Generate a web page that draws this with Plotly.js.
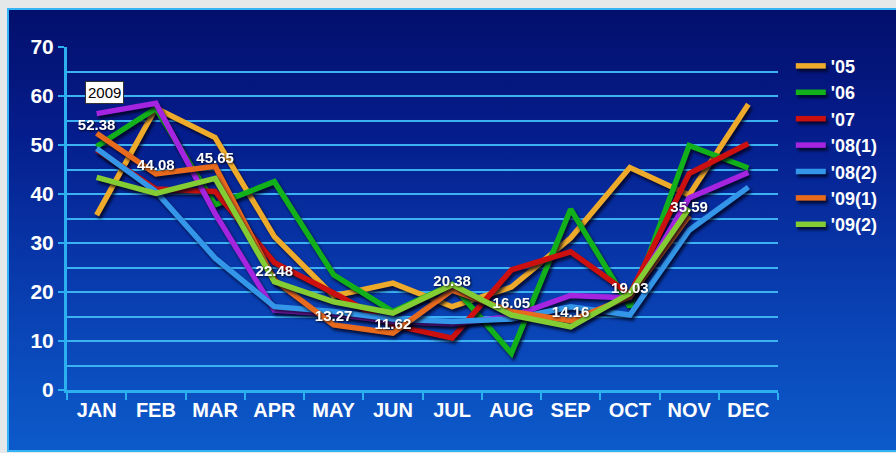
<!DOCTYPE html>
<html>
<head>
<meta charset="utf-8">
<script src="https://cdn.plot.ly/plotly-3.0.1.min.js"></script>
<style>
  html, body { margin: 0; padding: 0; width: 896px; height: 453px; overflow: hidden; background: #e4e8e8; }
  #panel {
    position: absolute; left: 7px; top: 8px; width: 889px; height: 440px;
    border-top: 2px solid #34b4f4; border-left: 2px solid #34b4f4; border-bottom: 2px solid #34b4f4;
    background: linear-gradient(to bottom, #030f6c 0%, #051d8c 28%, #0838aa 58%, #0b4fc0 85%, #0c5aca 100%);
  }
  #chart { position: absolute; left: 0; top: 0; width: 896px; height: 453px; }
  #chart .scatterlayer .js-line,
  #chart .legendlines path {
    filter: drop-shadow(2px 3px 1.5px rgba(0, 0, 20, 0.75));
  }
  #chart .scatterlayer .textpoint text {
    filter: drop-shadow(1px 1px 1px rgba(0, 0, 0, 0.8));
  }
</style>
</head>
<body>
<div id="panel"></div>
<div id="chart"></div>
<script>
const months = ['JAN', 'FEB', 'MAR', 'APR', 'MAY', 'JUN', 'JUL', 'AUG', 'SEP', 'OCT', 'NOV', 'DEC'];

const seriesNames = ["'05", "'06", "'07", "'08(1)", "'08(2)", "'09(1)", "'09(2)"];

const s05  = [35.7, 57.5, 51.5, 31.3, 19.2, 21.8, 17.0, 21.0, 31.0, 45.4, 39.8, 58.3];
const s06  = [49.7, 57.5, 37.8, 42.5, 23.5, 16.0, 21.5, 7.5, 36.9, 17.0, 49.9, 45.3];
const s07  = [49.0, 41.0, 40.5, 26.0, 19.8, 13.3, 10.6, 24.5, 28.2, 19.5, 44.2, 50.3];
const s081 = [56.4, 58.5, 36.0, 16.3, 15.5, 14.0, 13.5, 15.0, 19.3, 18.8, 39.2, 44.4];
const s082 = [49.3, 40.5, 26.9, 17.0, 16.0, 14.5, 14.0, 14.5, 17.0, 15.3, 32.6, 41.4];
const s091 = [52.38, 44.08, 45.65, 22.48, 13.27, 11.62, 20.38, 16.05, 14.16, 19.03, 35.59, null];
const s092 = [43.4, 40.1, 43.2, 22.1, 18.0, 15.7, 21.5, 15.3, 12.9, 19.7, 37.1, null];

const labelledSeries = s091;
const noteText = '2009';

const colors = ['#eeaa2a', '#12b01a', '#cc1010', '#a424e0', '#3496e8', '#e86a1c', '#84cc34'];
const allSeries = [s05, s06, s07, s081, s082, s091, s092];

const traces = allSeries.map((vals, i) => ({
  type: 'scatter',
  mode: 'lines',
  name: seriesNames[i],
  x: months,
  y: vals,
  line: { color: colors[i], width: 5.5 },
  hoverinfo: 'skip'
}));

// value labels drawn last so they sit above every line
traces.push({
  type: 'scatter',
  mode: 'text',
  x: months,
  y: labelledSeries,
  text: labelledSeries.map(v => v == null ? '' : v.toFixed(2)),
  textposition: 'top center',
  textfont: { family: 'Liberation Sans, Arial, sans-serif', size: 15, color: '#ffffff', weight: 'bold' },
  showlegend: false,
  hoverinfo: 'skip'
});

const layout = {
  width: 896,
  height: 453,
  margin: { l: 67, r: 118, t: 47, b: 63 },
  paper_bgcolor: 'rgba(0,0,0,0)',
  plot_bgcolor: 'rgba(0,0,0,0)',
  showlegend: true,
  legend: {
    x: 1.018, xanchor: 'left',
    y: 0.998, yanchor: 'top',
    bgcolor: 'rgba(0,0,0,0)',
    font: { family: 'Liberation Sans, Arial, sans-serif', size: 18, color: '#ffffff', weight: 'bold' },
    itemwidth: 30,
    tracegroupgap: 0
  },
  xaxis: {
    type: 'category',
    range: [-0.5, 11.5],
    showgrid: false,
    showline: true,
    linecolor: '#2cb0f0',
    linewidth: 3,
    ticks: 'outside',
    tickson: 'boundaries',
    ticklen: 7,
    tickwidth: 2,
    tickcolor: '#2cb0f0',
    tickfont: { family: 'Liberation Sans, Arial, sans-serif', size: 20, color: '#ffffff', weight: 'bold' },
    zeroline: false,
    fixedrange: true
  },
  yaxis: {
    range: [0, 70],
    dtick: 10,
    tick0: 0,
    showgrid: true,
    gridcolor: '#3cb2f2',
    gridwidth: 2,
    minor: { dtick: 5, showgrid: true, gridcolor: '#3cb2f2', gridwidth: 2 },
    showline: true,
    linecolor: '#2cb0f0',
    linewidth: 3,
    ticks: 'outside',
    ticklen: 6,
    tickwidth: 2,
    tickcolor: '#2cb0f0',
    tickfont: { family: 'Liberation Sans Narrow, Liberation Sans, Arial, sans-serif', size: 21, color: '#ffffff', weight: 'bold' },
    zeroline: false,
    fixedrange: true
  },
  annotations: [{
    xref: 'x', yref: 'y',
    x: 0.14, y: 60.8,
    text: noteText,
    showarrow: false,
    bgcolor: '#ffffff',
    bordercolor: '#333333',
    borderwidth: 1,
    borderpad: 2,
    font: { family: 'Liberation Sans, Arial, sans-serif', size: 15, color: '#000000' }
  }]
};

Plotly.newPlot('chart', traces, layout, { staticPlot: true, displayModeBar: false });
</script>
</body>
</html>
